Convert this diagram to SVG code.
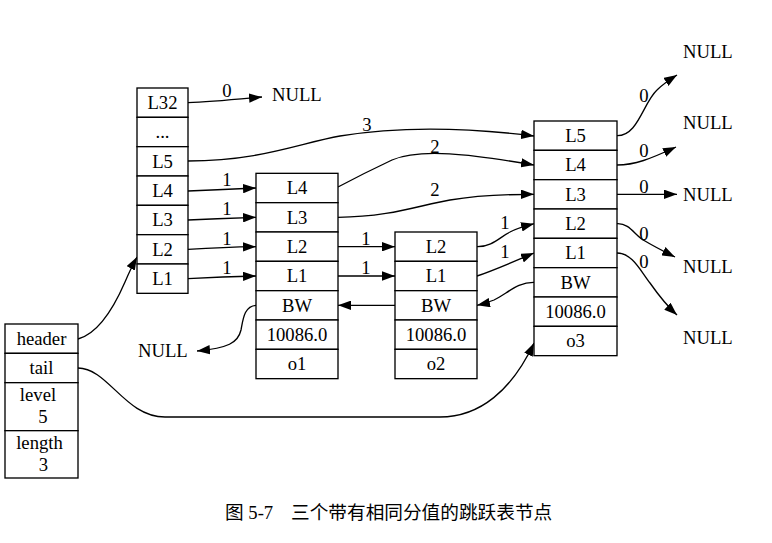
<svg xmlns="http://www.w3.org/2000/svg" width="772" height="543" viewBox="0 0 772 543">
<style>
.box{fill:#fff;stroke:#000;stroke-width:1.33}
.t{font-family:"Liberation Serif","Times New Roman",serif;font-size:18.67px;text-anchor:middle;fill:#000}
.n{font-family:"Liberation Serif","Times New Roman",serif;font-size:18.67px;fill:#000}
.e{fill:none;stroke:#000;stroke-width:1.33;marker-end:url(#ah)}
.cap{font-family:"Liberation Serif","Noto Sans CJK SC",serif;font-size:18.67px;fill:#000}
</style>
<defs>
<marker id="ah" viewBox="0 0 13 9.4" refX="13" refY="4.7" markerWidth="13" markerHeight="9.4" markerUnits="userSpaceOnUse" orient="auto">
<path d="M0,0 L13,4.7 L0,9.4 z" fill="#000"/>
</marker>
</defs>
<rect width="772" height="543" fill="#fff"/>

<g id="connectors">
<path class="e" d="M78,339 C100,333 115,305 125,282 C128,275 132,266 137,257"/>
<path class="e" d="M78,368 C108,368 125,417 165,417 L440,417 C480,417 512,390 534,343"/>
<path class="e" d="M188,102.7 C210,102 240,99 262,97"/>
<path class="e" d="M188,161 C260,161 300,143 340,136 C400,126 470,128 534,136"/>
<path class="e" d="M188,191 C210,190 235,189 256,188"/>
<path class="e" d="M188,220 C210,219 235,218 256,217.3"/>
<path class="e" d="M188,249.3 C210,248 235,247 256,246.7"/>
<path class="e" d="M188,278.7 C210,277.5 235,276.5 256,276"/>
<path class="e" d="M338,187 C355,178 375,168 392,160 C420,148 470,154 534,165"/>
<path class="e" d="M338,217.3 C390,217 420,205 450,200 C480,195 505,194.3 534,194.3"/>
<path class="e" d="M338,246.7 L395,246.7"/>
<path class="e" d="M338,276 L395,276"/>
<path class="e" d="M395,305.3 L338,305.3"/>
<path class="e" d="M256,305.3 C244,306 243,320 241,330 C238,343 228,348 197,351"/>
<path class="e" d="M477,246.7 C492,247 500,237 510,232 C517,228 525,226 534,223.7"/>
<path class="e" d="M477,276 C495,270 515,261 534,253"/>
<path class="e" d="M534,282.3 C518,282 508,293 494,300 C489,302 483,304 477,305.3"/>
<path class="e" d="M617,135.7 C638,136 643,103 657,90 C662,85 669,80 677,75"/>
<path class="e" d="M617,165 C635,165 650,159 676,147"/>
<path class="e" d="M617,194.3 L677,194.3"/>
<path class="e" d="M617,223.7 C630,223 635,236 645,241 C655,247 663,251 675,257"/>
<path class="e" d="M617,253 C632,253 640,270 650,283 C657,293 665,304 677,315"/>
<g class="t">
<text x="227" y="97">0</text>
<text x="367" y="131">3</text>
<text x="435" y="153">2</text>
<text x="435" y="196">2</text>
<text x="227" y="186">1</text>
<text x="227" y="215">1</text>
<text x="227" y="245">1</text>
<text x="227" y="274">1</text>
<text x="366" y="245">1</text>
<text x="366" y="274">1</text>
<text x="505" y="229">1</text>
<text x="505" y="258">1</text>
<text x="644" y="102">0</text>
<text x="644" y="157">0</text>
<text x="644" y="193">0</text>
<text x="644" y="240">0</text>
<text x="644" y="268">0</text>
</g>
</g>

<g id="skiplist">
<rect class="box" x="5" y="324" width="73" height="29.33"/>
<rect class="box" x="5" y="353.33" width="73" height="29.33"/>
<rect class="box" x="5" y="382.67" width="73" height="48"/>
<rect class="box" x="5" y="430.67" width="73" height="47.33"/>
<text class="t" x="41.5" y="345">header</text>
<text class="t" x="41.5" y="374">tail</text>
<text class="t" x="38" y="401">level</text>
<text class="t" x="43" y="423">5</text>
<text class="t" x="39.5" y="449">length</text>
<text class="t" x="43.5" y="471">3</text>
</g>

<g id="header">
<rect class="box" x="137" y="88" width="51" height="29.33"/>
<rect class="box" x="137" y="117.33" width="51" height="29.33"/>
<rect class="box" x="137" y="146.67" width="51" height="29.33"/>
<rect class="box" x="137" y="176" width="51" height="29.33"/>
<rect class="box" x="137" y="205.33" width="51" height="29.33"/>
<rect class="box" x="137" y="234.67" width="51" height="29.33"/>
<rect class="box" x="137" y="264" width="51" height="29.33"/>
<text class="t" x="162.5" y="109">L32</text>
<text class="t" x="162.5" y="138">...</text>
<text class="t" x="162.5" y="167.6">L5</text>
<text class="t" x="162.5" y="197">L4</text>
<text class="t" x="162.5" y="226.3">L3</text>
<text class="t" x="162.5" y="255.6">L2</text>
<text class="t" x="162.5" y="285">L1</text>
</g>

<g id="o1">
<rect class="box" x="256" y="173.33" width="82" height="29.33"/>
<rect class="box" x="256" y="202.67" width="82" height="29.33"/>
<rect class="box" x="256" y="232" width="82" height="29.33"/>
<rect class="box" x="256" y="261.33" width="82" height="29.33"/>
<rect class="box" x="256" y="290.67" width="82" height="29.33"/>
<rect class="box" x="256" y="320" width="82" height="29.33"/>
<rect class="box" x="256" y="349.33" width="82" height="29.33"/>
<text class="t" x="297" y="194.3">L4</text>
<text class="t" x="297" y="223.6">L3</text>
<text class="t" x="297" y="253">L2</text>
<text class="t" x="297" y="282.3">L1</text>
<text class="t" x="297" y="311.6">BW</text>
<text class="t" x="297" y="341">10086.0</text>
<text class="t" x="297" y="370.3">o1</text>
</g>

<g id="o2">
<rect class="box" x="395" y="232" width="82" height="29.33"/>
<rect class="box" x="395" y="261.33" width="82" height="29.33"/>
<rect class="box" x="395" y="290.67" width="82" height="29.33"/>
<rect class="box" x="395" y="320" width="82" height="29.33"/>
<rect class="box" x="395" y="349.33" width="82" height="29.33"/>
<text class="t" x="436" y="253">L2</text>
<text class="t" x="436" y="282.3">L1</text>
<text class="t" x="436" y="311.6">BW</text>
<text class="t" x="436" y="341">10086.0</text>
<text class="t" x="436" y="370.3">o2</text>
</g>

<g id="o3">
<rect class="box" x="534" y="121" width="83" height="29.33"/>
<rect class="box" x="534" y="150.33" width="83" height="29.33"/>
<rect class="box" x="534" y="179.67" width="83" height="29.33"/>
<rect class="box" x="534" y="209" width="83" height="29.33"/>
<rect class="box" x="534" y="238.33" width="83" height="29.33"/>
<rect class="box" x="534" y="267.67" width="83" height="29.33"/>
<rect class="box" x="534" y="297" width="83" height="29.33"/>
<rect class="box" x="534" y="326.33" width="83" height="29.33"/>
<text class="t" x="575.5" y="142">L5</text>
<text class="t" x="575.5" y="171.3">L4</text>
<text class="t" x="575.5" y="200.6">L3</text>
<text class="t" x="575.5" y="230">L2</text>
<text class="t" x="575.5" y="259.3">L1</text>
<text class="t" x="575.5" y="288.6">BW</text>
<text class="t" x="575.5" y="318">10086.0</text>
<text class="t" x="575.5" y="347.3">o3</text>
</g>

<g id="null-l32"><text class="n" x="272" y="101">NULL</text></g>
<g id="null-bw"><text class="n" x="138" y="357">NULL</text></g>
<g id="null-l5"><text class="n" x="683" y="58">NULL</text></g>
<g id="null-l4"><text class="n" x="683" y="129">NULL</text></g>
<g id="null-l3"><text class="n" x="683" y="201">NULL</text></g>
<g id="null-l2"><text class="n" x="683" y="273">NULL</text></g>
<g id="null-l1"><text class="n" x="683" y="344">NULL</text></g>

<text class="cap" x="225" y="519">图 5-7<tspan x="291">三个带有相同分值的跳跃表节点</tspan></text>
</svg>
